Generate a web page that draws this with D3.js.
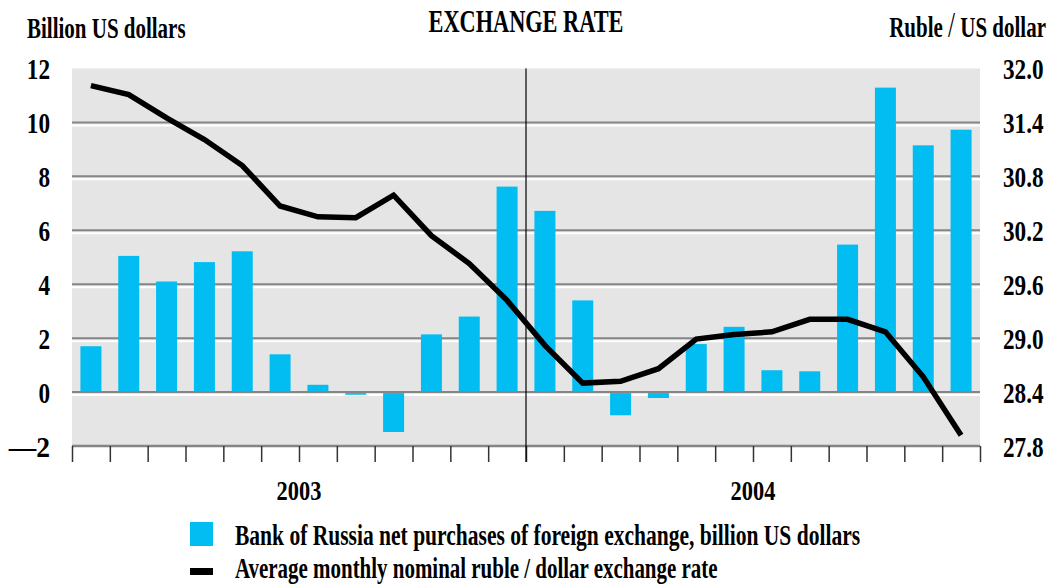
<!DOCTYPE html>
<html>
<head>
<meta charset="utf-8">
<script src="https://cdn.jsdelivr.net/npm/d3@7"></script>
<style>
  html, body { margin: 0; padding: 0; background: #fff; }
  svg { display: block; }
  text { font-family: "Liberation Serif", "Times New Roman", serif; font-weight: bold; fill: #000; }
</style>
</head>
<body>
<svg id="chart" width="1048" height="585"></svg>
<script>
// ---- data ----
const months = ["Jan 03","Feb 03","Mar 03","Apr 03","May 03","Jun 03","Jul 03","Aug 03","Sep 03","Oct 03","Nov 03","Dec 03",
                "Jan 04","Feb 04","Mar 04","Apr 04","May 04","Jun 04","Jul 04","Aug 04","Sep 04","Oct 04","Nov 04","Dec 04"];
const purchases = [1.7, 5.05, 4.1, 4.82, 5.22, 1.4, 0.27, -0.1, -1.48, 2.14, 2.8, 7.62,
                   6.72, 3.4, -0.86, -0.22, 1.78, 2.42, 0.81, 0.77, 5.47, 11.29, 9.15, 9.73];
const rubleRate = [31.81, 31.71, 31.45, 31.21, 30.92, 30.47, 30.35, 30.34, 30.59, 30.14, 29.83, 29.42,
                   28.92, 28.50, 28.52, 28.66, 28.99, 29.04, 29.07, 29.21, 29.21, 29.07, 28.57, 27.92];
const years = ["2003", "2004"];
const leftTicks = [12, 10, 8, 6, 4, 2, 0, -2];
const rightTicks = [32.0, 31.4, 30.8, 30.2, 29.6, 29.0, 28.4, 27.8];
const titleText = "EXCHANGE RATE";
const leftTitle = "Billion US dollars";
const rightTitle = ["Ruble ", "/", " US dollar"];
const legendBars = "Bank of Russia net purchases of foreign exchange, billion US dollars";
const legendLine = "Average monthly nominal ruble / dollar exchange rate";

// ---- layout ----
const L = 72, R = 980, T = 68.5, B = 446;
const SX = 0.70, SXN = 0.80;
const svg = d3.select("#chart");

const x = d3.scaleBand().domain(months).range([L, R]).paddingInner(0.445).paddingOuter(0.2225);
const xi = d3.scaleLinear().domain([0, months.length]).range([L, R]);
const yL = d3.scaleLinear().domain([-2, 12]).range([B, T]);
const yR = d3.scaleLinear().domain([27.8, 32.0]).range([B, T]);

function label(sel, str, px, py, size, sx, anchor) {
  const t = sel.append("text")
    .attr("transform", `translate(${px},${py}) scale(${sx},1)`)
    .attr("text-anchor", anchor || "start")
    .style("font-size", size + "px");
  if (Array.isArray(str)) {
    str.forEach(s => {
      const ts = t.append("tspan").text(s);
      if (s === "/") ts.style("font-size", (size * 1.2) + "px").style("font-weight", "normal");
    });
  } else {
    t.text(str);
  }
  return t;
}

// background
svg.append("rect").attr("x", L).attr("y", T).attr("width", R - L).attr("height", B - T).attr("fill", "#e5e5e5");

// gridlines (dark + white highlight)
const gridVals = leftTicks.filter(v => v > -2 && v < 12);
svg.append("g").selectAll("line.g1").data(gridVals).join("line")
  .attr("x1", L).attr("x2", R).attr("y1", d => yL(d)).attr("y2", d => yL(d))
  .attr("stroke", "#858585").attr("stroke-width", 2);
svg.append("g").selectAll("line.g2").data(gridVals).join("line")
  .attr("x1", L).attr("x2", R).attr("y1", d => yL(d) + 3).attr("y2", d => yL(d) + 3)
  .attr("stroke", "#ffffff").attr("stroke-width", 2);

// bars
svg.append("g").selectAll("rect").data(purchases).join("rect")
  .attr("x", (d, i) => x(months[i]))
  .attr("width", x.bandwidth())
  .attr("y", d => d >= 0 ? yL(d) : yL(0) + 1)
  .attr("height", d => d >= 0 ? yL(0) - 1 - yL(d) : yL(d) - yL(0) - 1)
  .attr("fill", "#02bdf1");

// bottom axis line
svg.append("line").attr("x1", L).attr("x2", R).attr("y1", B).attr("y2", B)
  .attr("stroke", "#858585").attr("stroke-width", 2.5);

// bottom ticks
const xAxis = d3.axisBottom(xi).tickValues(d3.range(months.length + 1)).tickSize(16).tickFormat("");
const gx = svg.append("g").attr("transform", `translate(0,${B})`).call(xAxis);
gx.select(".domain").remove();
gx.selectAll(".tick line").attr("stroke", "#333").attr("stroke-width", 1.5);

// year divider
svg.append("line").attr("x1", xi(12)).attr("x2", xi(12)).attr("y1", T).attr("y2", B + 16)
  .attr("stroke", "#000").attr("stroke-width", 1.2);

// rate line
const line = d3.line().x((d, i) => x(months[i]) + x.bandwidth() / 2).y(d => yR(d));
svg.append("path").datum(rubleRate).attr("d", line)
  .attr("fill", "none").attr("stroke", "#000").attr("stroke-width", 5.5).attr("stroke-linejoin", "miter");

// left axis labels
const gl = svg.append("g").attr("transform", `translate(${L},0)`)
  .call(d3.axisLeft(yL).tickValues(leftTicks).tickSize(0).tickFormat(d => d < 0 ? "\u2014" + Math.abs(d) : d));
gl.select(".domain").remove();
gl.selectAll(".tick text")
  .attr("x", null).attr("dy", null)
  .attr("transform", d => d < 0 ? `translate(-22,10) scale(0.95,1)` : `translate(-22,10) scale(${SXN},1)`)
  .attr("text-anchor", "end")
  .style("font-size", "29px").style("font-family", null);

// right axis labels
const gr = svg.append("g").attr("transform", `translate(${R},0)`)
  .call(d3.axisRight(yR).tickValues(rightTicks).tickSize(0).tickFormat(d3.format(".1f")));
gr.select(".domain").remove();
gr.selectAll(".tick text")
  .attr("x", null).attr("dy", null)
  .attr("transform", `translate(23,10) scale(${SXN},1)`)
  .attr("text-anchor", "start")
  .style("font-size", "29px").style("font-family", null);

// titles
label(svg, titleText, 526, 32, 31, 0.72, "middle");
label(svg, leftTitle, 27, 38, 30, SX, "start");
label(svg, rightTitle, 1046, 37, 30, 0.70, "end");

// year labels
years.forEach((yr, k) => {
  label(svg, yr, xi(k * 12 + 6), 500, 28, SXN, "middle");
});

// legend
svg.append("rect").attr("x", 190).attr("y", 522).attr("width", 23).attr("height", 24).attr("fill", "#02bdf1");
label(svg, legendBars, 235, 545, 28.5, 0.755, "start");
svg.append("rect").attr("x", 190).attr("y", 568).attr("width", 23).attr("height", 7).attr("fill", "#000");
label(svg, legendLine, 235, 578, 28.5, 0.735, "start");
</script>
</body>
</html>
